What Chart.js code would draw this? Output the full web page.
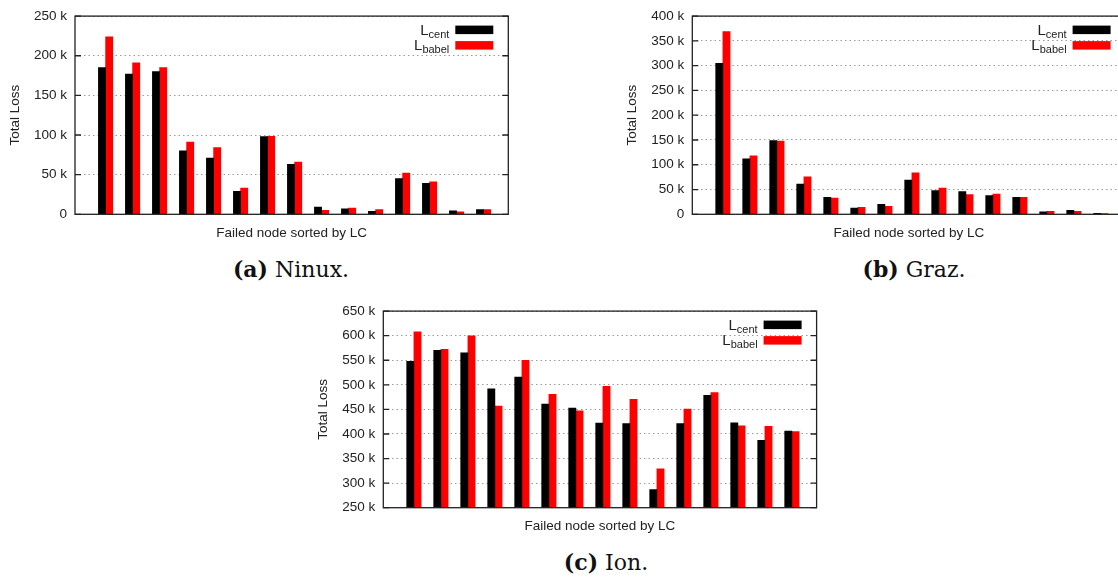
<!DOCTYPE html>
<html lang="en">
<head>
<meta charset="UTF-8" />
<title>Total Loss per failed node</title>
<script src="https://cdn.jsdelivr.net/npm/chart.js"></script>
<style>
  html, body {
    margin: 0;
    padding: 0;
    background: #fff;
    overflow: hidden;
  }

  body {
    width: 1118px;
    height: 581px;
    position: relative;
  }

  canvas {
    position: absolute;
  }

  .caption {
    position: absolute;
    font-family: 'DejaVu Serif', serif;
    font-size: 22px;
    color: #111;
    white-space: nowrap;
    transform: translateX(-50%);
  }
</style>
</head>
<body>

<canvas id="ninux"></canvas>
<canvas id="graz"></canvas>
<canvas id="ion"></canvas>

<div class="caption" style="left:291px; top:256px"><b>(a)</b> Ninux.</div>
<div class="caption" style="left:914px; top:256px"><b>(b)</b> Graz.</div>
<div class="caption" style="left:606px; top:549px"><b>(c)</b> Ion.</div>

<script>
  // failed nodes, sorted by LC
  const nodes = [0, 1, 2, 3, 4, 5, 6, 7, 8, 9, 10, 11, 12, 13, 14];
  const seriesNames = ['cent', 'babel'];

  const ninuxCent  = [185000, 177000, 180000, 80000, 71000, 29000, 98000, 63000, 9000, 7000, 3700, 45000, 39000, 4500, 6000];
  const ninuxBabel = [224000, 191000, 185000, 91000, 84000, 33000, 98500, 66000, 5000, 8000, 6000, 52000, 41000, 3000, 6000];

  const grazCent  = [304500, 112000, 149000, 61000, 34000, 12600, 20000, 69000, 48000, 46000, 38000, 34000, 5000, 8000, 2000];
  const grazBabel = [369000, 118000, 148000, 75600, 32500, 14000, 16000, 83600, 53000, 40000, 41000, 34000, 6000, 6000, 1500];

  const ionCent  = [548000, 570000, 565000, 492000, 516000, 460600, 452700, 422000, 421000, 287000, 421000, 478600, 422800, 387000, 406000];
  const ionBabel = [608000, 572000, 599500, 456600, 549700, 480600, 447000, 497000, 470600, 329000, 450700, 484000, 416800, 415400, 405000];

  const ninuxTicks = [0, 50000, 100000, 150000, 200000, 250000];
  const grazTicks  = [0, 50000, 100000, 150000, 200000, 250000, 300000, 350000, 400000];
  const ionTicks   = [250000, 300000, 350000, 400000, 450000, 500000, 550000, 600000, 650000];

  const seriesColors = ['#000000', '#ff0000'];
  const font = "'Liberation Sans', Arial, sans-serif";

  // gnuplot style frame, inner tick marks and the key
  const gnuFrame = {
    id: 'gnuFrame',
    afterDatasetsDraw(chart) {
      const { ctx, chartArea: a } = chart;
      const y = chart.scales.y;
      ctx.save();
      ctx.strokeStyle = '#222';
      ctx.lineWidth = 1.3;
      ctx.beginPath();
      y.ticks.forEach(t => {
        const py = y.getPixelForValue(t.value);
        ctx.moveTo(a.left, py);
        ctx.lineTo(a.left + 6, py);
        ctx.moveTo(a.right, py);
        ctx.lineTo(a.right - 6, py);
      });
      ctx.stroke();
      ctx.strokeRect(a.left, a.top, a.right - a.left, a.bottom - a.top);

      // key, top right
      const swR = a.right - 15, swW = 38, swH = 8.5;
      chart.data.datasets.forEach((ds, i) => {
        const top = a.top + 9.5 + i * 15.5;
        ctx.fillStyle = ds.backgroundColor;
        ctx.fillRect(swR - swW, top, swW, swH);
        const textR = swR - swW - 6;
        const base = top + swH + 0.5;
        ctx.fillStyle = '#222';
        ctx.textAlign = 'right';
        ctx.textBaseline = 'alphabetic';
        ctx.font = '11px ' + font;
        const subW = ctx.measureText(ds.label).width;
        ctx.fillText(ds.label, textR, base + 3);
        ctx.font = '15px ' + font;
        ctx.fillText('L', textR - subW, base);
      });
      ctx.restore();
    }
  };

  function makeChart(id, geo, cent, babel, ticks) {
    const canvas = document.getElementById(id);
    const w = Math.ceil(geo.R - geo.left + 4);
    const h = Math.ceil(geo.B - geo.top + 26);
    canvas.width = w;
    canvas.height = h;
    canvas.style.left = geo.left + 'px';
    canvas.style.top = geo.top + 'px';
    canvas.style.width = w + 'px';
    canvas.style.height = h + 'px';

    const slot = 27;
    const xMin = -30.6 / slot;
    const xMax = xMin + (geo.R - geo.L) / slot;

    return new Chart(canvas, {
      type: 'bar',
      data: {
        datasets: [cent, babel].map((vals, i) => ({
          label: seriesNames[i],
          data: nodes.map((n, k) => ({ x: n, y: vals[k] })),
          backgroundColor: seriesColors[i],
          borderWidth: 0,
          barThickness: 7.2
        }))
      },
      options: {
        responsive: false,
        animation: false,
        devicePixelRatio: 1,
        layout: {
          padding: { left: 0, top: geo.T - geo.top, right: w - (geo.R - geo.left), bottom: 0 }
        },
        plugins: {
          legend: { display: false },
          tooltip: { enabled: false }
        },
        scales: {
          x: {
            type: 'linear',
            offset: false,
            min: xMin,
            max: xMax,
            grid: { display: false, drawTicks: false },
            border: { display: false },
            ticks: { display: false },
            title: {
              display: true,
              text: 'Failed node sorted by LC',
              color: '#222',
              font: { family: font, size: 13.5 },
              padding: { top: 1.4, bottom: 0 }
            },
            afterFit: s => { s.height = h - (geo.B - geo.top); }
          },
          y: {
            min: ticks[0],
            max: ticks[ticks.length - 1],
            afterBuildTicks: s => { s.ticks = ticks.map(v => ({ value: v })); },
            grid: { color: '#9a9a9a', lineWidth: 1, drawTicks: false },
            border: { display: false, dash: [1.5, 3] },
            ticks: {
              color: '#222',
              padding: 8,
              font: { family: font, size: 13.5 },
              callback: v => v === 0 ? '0' : (v / 1000) + ' k'
            },
            title: {
              display: true,
              text: 'Total Loss',
              color: '#222',
              font: { family: font, size: 13.5 },
              padding: { top: geo.titleX - geo.left - 8.1, bottom: 0 }
            },
            afterFit: s => { s.width = geo.L - geo.left; }
          }
        }
      },
      plugins: [gnuFrame]
    });
  }

  makeChart('ninux', { left: 0, top: 0, L: 75, T: 14, R: 508.3, B: 214.3, titleX: 15 },
    ninuxCent, ninuxBabel, ninuxTicks);
  makeChart('graz', { left: 620, top: 0, L: 692.3, T: 14, R: 1125.6, B: 214.3, titleX: 632 },
    grazCent, grazBabel, grazTicks);
  makeChart('ion', { left: 310, top: 295, L: 383.3, T: 307, R: 816.6, B: 507.7, titleX: 323.3 },
    ionCent, ionBabel, ionTicks);
</script>

</body>
</html>
